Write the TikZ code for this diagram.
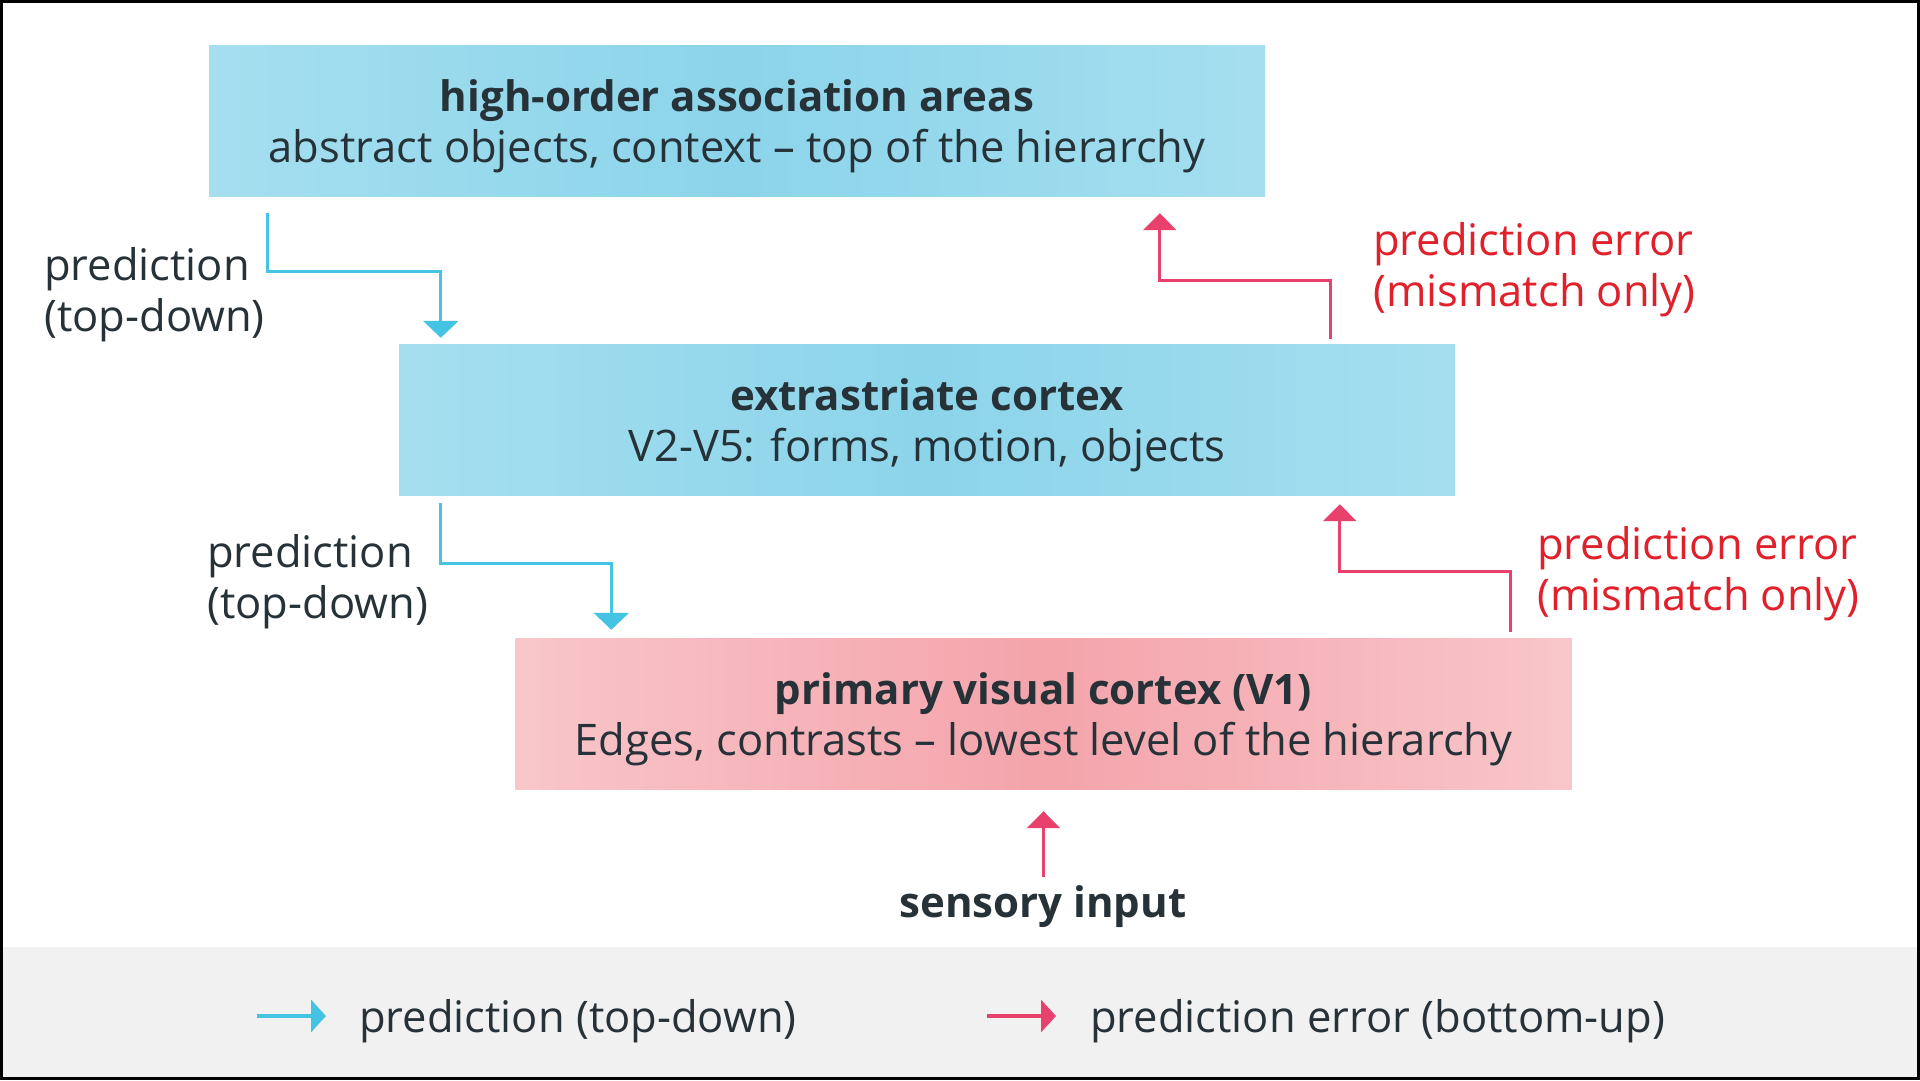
\documentclass[tikz,border=0pt]{standalone}
\usepackage{fontspec}
\setmainfont{Open Sans}
\usetikzlibrary{arrows.meta,calc}
\definecolor{ink}{HTML}{263238}
\definecolor{blu}{HTML}{45C3E3}
\definecolor{pnk}{HTML}{E8416E}
\definecolor{errtxt}{HTML}{E0212B}
\definecolor{cyanD}{HTML}{8CD4EA}
\definecolor{cyanM}{HTML}{A8E0F0}
\definecolor{cyanL}{HTML}{D2F0F8}
\definecolor{pinkD}{HTML}{F4A4AB}
\definecolor{pinkM}{HTML}{F8C6CA}
\definecolor{pinkL}{HTML}{FCE6E8}
\definecolor{band}{HTML}{F1F1F1}
\pgfdeclarehorizontalshading{cyanshade}{100bp}{color(0bp)=(cyanL); color(22bp)=(cyanM); color(50bp)=(cyanD); color(78bp)=(cyanM); color(100bp)=(cyanL)}
\pgfdeclarehorizontalshading{pinkshade}{100bp}{color(0bp)=(pinkL); color(25bp)=(pinkM); color(50bp)=(pinkD); color(75bp)=(pinkM); color(100bp)=(pinkL)}
\begin{document}
\begin{tikzpicture}[x=1pt,y=-1pt,
  txt/.style={font=\fontsize{43.5}{51}\selectfont},
  ttl/.style={font=\fontsize{42}{51}\selectfont\bfseries},
  box/.style={minimum width=1056pt, minimum height=151pt, inner sep=0pt},
  bluebox/.style={box, shading=cyanshade},
  pinkbox/.style={box, shading=pinkshade},
  boxtxt/.style={txt, align=center, inner sep=0pt, text=ink},
  lbl/.style={txt, align=left, anchor=west, inner sep=0pt, text=ink},
  errlbl/.style={lbl, text=errtxt},
  predarrow/.style={draw=blu, line width=3pt, -{Triangle[length=17pt,width=35pt]}, blu},
  errarrow/.style={draw=pnk, line width=3pt, -{Triangle[length=17pt,width=33pt]}, pnk},
]
\path[use as bounding box, fill=white] (0,0) rectangle (1920,1080);
\fill[band] (0,947) rectangle (1920,1080);

\node[bluebox] (top) at (737,120.5) {};
\node[boxtxt] (toptxt) at ($(top.center)+(0,6)$) {{\fontsize{42}{51}\selectfont\bfseries high-order association areas}\\abstract objects, context – top of the hierarchy};
\node[bluebox] (mid) at (927,419.5) {};
\node[boxtxt] (midtxt) at ($(mid.center)+(0,6)$) {{\fontsize{42}{51}\selectfont\bfseries extrastriate cortex}\\V2-V5: forms, motion, objects};
\node[pinkbox] (low) at (1043.5,713.5) {};
\node[boxtxt] (lowtxt) at ($(low.center)+(0,6)$) {{\fontsize{42}{51}\selectfont\bfseries primary visual cortex (V1)}\\Edges, contrasts – lowest level of the hierarchy};

% prediction arrows
\coordinate (b1s) at ($(top.south west)+(59,17)$);
\coordinate (b1e) at ($(mid.north west)+(42,-6)$);
\draw[predarrow] (b1s) -- (b1s |- 0,271) -- (b1e |- 0,271) -- (b1e);
\node[lbl] (pl1) at (44,294.5) {prediction\\(top-down)};

\coordinate (b2s) at ($(mid.south west)+(42,8)$);
\coordinate (b2e) at ($(low.north west)+(96,-8)$);
\draw[predarrow] (b2s) -- (b2s |- 0,563) -- (b2e |- 0,563) -- (b2e);
\node[lbl] (pl2) at (207,581.5) {prediction\\(top-down)};

% error arrows
\coordinate (r1s) at ($(mid.north west)+(932,-5)$);
\coordinate (r1e) at ($(top.south west)+(951,17)$);
\draw[errarrow] (r1s) -- (r1s |- 0,280) -- (r1e |- 0,280) -- (r1e);
\node[errlbl] (el1) at (1373,269.5) {prediction error\\(mismatch only)};

\coordinate (r2s) at ($(low.north west)+(995,-6)$);
\coordinate (r2e) at ($(mid.south west)+(941,9)$);
\draw[errarrow] (r2s) -- (r2s |- 0,571) -- (r2e |- 0,571) -- (r2e);
\node[errlbl] (el2) at (1537,573.5) {prediction error\\(mismatch only)};

% sensory input
\node[ttl, text=ink, inner sep=0pt] (sens) at (1043,907) {sensory input};
\coordinate (ss) at ($(low.south)+(0,88)$);
\draw[errarrow] (ss) -- ($(low.south)+(0,22)$);

% legend
\coordinate (lg1a) at (257,1016);
\coordinate (lg1b) at (326,1016);
\draw[draw=blu, line width=4pt, -{Triangle[length=15pt,width=32pt]}, blu] (lg1a) -- (lg1b);
\node[lbl] (lt1) at (359,1021) {prediction (top-down)};
\coordinate (lg2a) at (987,1016);
\coordinate (lg2b) at (1056,1016);
\draw[draw=pnk, line width=4pt, -{Triangle[length=15pt,width=32pt]}, pnk] (lg2a) -- (lg2b);
\node[lbl] (lt2) at (1090,1021) {prediction error (bottom-up)};

\draw[black, line width=3pt] (1.5,1.5) rectangle (1918.5,1078.5);
\end{tikzpicture}
\end{document}
